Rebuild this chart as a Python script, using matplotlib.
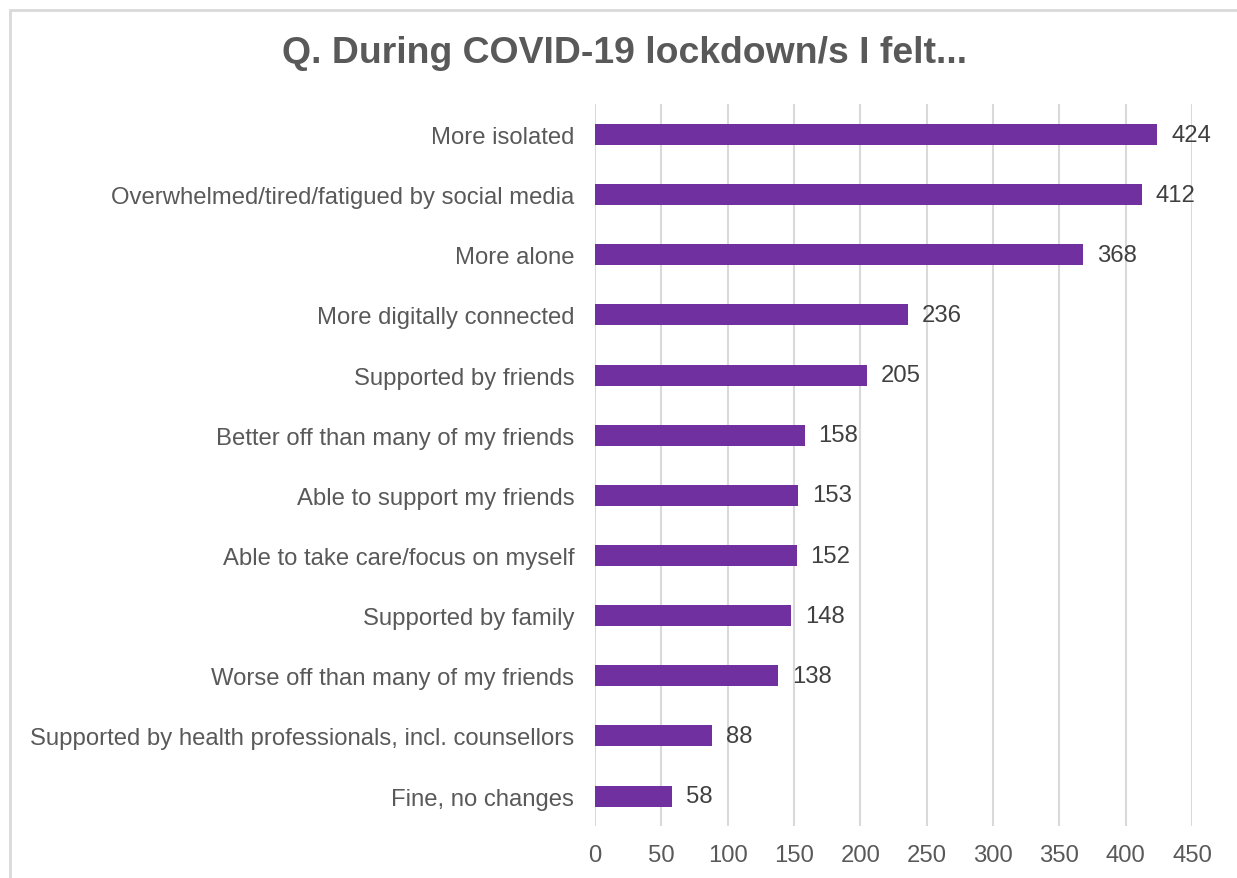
import matplotlib.pyplot as plt
from matplotlib.patches import Rectangle

# survey answers, top to bottom
categories = [
    "More isolated",
    "Overwhelmed/tired/fatigued by social media",
    "More alone",
    "More digitally connected",
    "Supported by friends",
    "Better off than many of my friends",
    "Able to support my friends",
    "Able to take care/focus on myself",
    "Supported by family",
    "Worse off than many of my friends",
    "Supported by health professionals, incl. counsellors",
    "Fine, no changes",
]
counts = [424, 412, 368, 236, 205, 158, 153, 152, 148, 138, 88, 58]
x_ticks = [0, 50, 100, 150, 200, 250, 300, 350, 400, 450]

plt.rcParams["font.family"] = ["Liberation Sans", "DejaVu Sans"]

PURPLE = "#7030A0"
GRID = "#D9D9D9"
TEXT = "#595959"

fig = plt.figure(figsize=(12.37, 8.79), dpi=100)
ax = fig.add_axes([0.481, 0.059, 0.4826, 0.821])

y = list(range(len(categories)))
ax.barh(y, counts, height=0.35, color=PURPLE, zorder=3)
for yi, v in zip(y, counts):
    ax.text(v + 10.5, yi, str(v), va="center", ha="left", fontsize=17.2, color="#404040")

ax.set_yticks(y)
ax.set_yticklabels(categories, fontsize=17.2, color=TEXT)
ax.set_ylim(len(categories) - 0.5, -0.5)
ax.set_xlim(0, 450)
ax.set_xticks(x_ticks)
ax.set_xticklabels([str(t) for t in x_ticks], fontsize=17.2, color=TEXT)
ax.tick_params(axis="both", length=0)
ax.tick_params(axis="y", pad=15)
ax.tick_params(axis="x", pad=13)
ax.xaxis.grid(True, color=GRID, linewidth=1.5, zorder=0)
for s in ax.spines.values():
    s.set_visible(False)

fig.text(0.505, 0.939, "Q. During COVID-19 lockdown/s I felt...", ha="center", va="center",
         fontsize=26.9, fontweight="bold", color=TEXT)

# chart frame (right and bottom edges fall outside the canvas)
fig.patches.append(Rectangle((9.5 / 1237, -0.1), 1.2, 1.1 - 10.5 / 879, transform=fig.transFigure,
                             fill=False, edgecolor=GRID, linewidth=2))

fig.savefig("out.png", dpi=100, facecolor="white")
